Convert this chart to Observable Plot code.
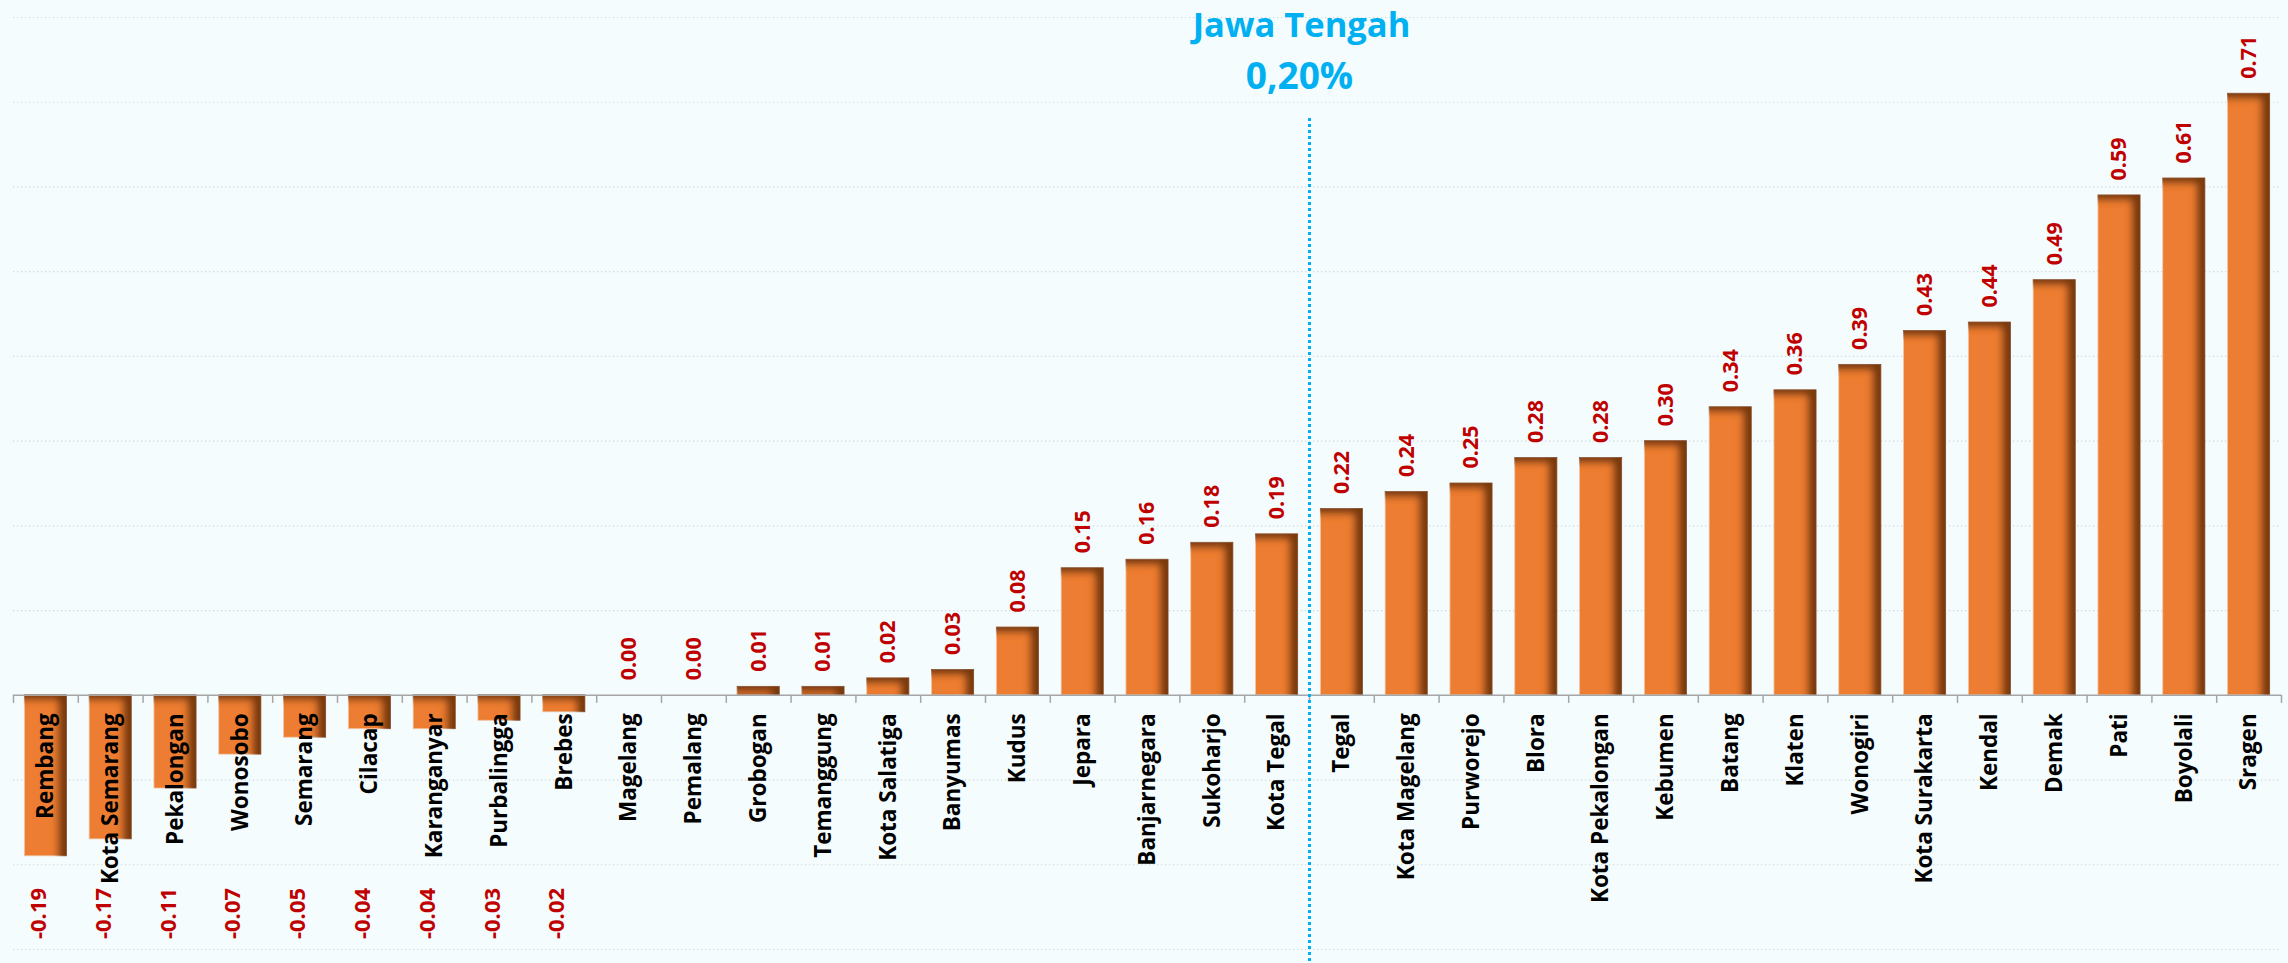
<!DOCTYPE html>
<html><head><meta charset="utf-8">
<script src="https://cdn.jsdelivr.net/npm/d3@7"></script>
<script src="https://cdn.jsdelivr.net/npm/@observablehq/plot@0.6"></script>
<style>
html,body{margin:0;padding:0;background:#f4fcfe;}
#chart{width:2288px;height:963px;}
</style></head><body><div id="chart"></div>
<script>
const regions = ["Rembang","Kota Semarang","Pekalongan","Wonosobo","Semarang","Cilacap","Karanganyar","Purbalingga","Brebes","Magelang","Pemalang","Grobogan","Temanggung","Kota Salatiga","Banyumas","Kudus","Jepara","Banjarnegara","Sukoharjo","Kota Tegal","Tegal","Kota Magelang","Purworejo","Blora","Kota Pekalongan","Kebumen","Batang","Klaten","Wonogiri","Kota Surakarta","Kendal","Demak","Pati","Boyolali","Sragen"];
const growth = [-0.19,-0.17,-0.11,-0.07,-0.05,-0.04,-0.04,-0.03,-0.02,0.00,0.00,0.01,0.01,0.02,0.03,0.08,0.15,0.16,0.18,0.19,0.22,0.24,0.25,0.28,0.28,0.30,0.34,0.36,0.39,0.43,0.44,0.49,0.59,0.61,0.71];
const provinceName = "Jawa Tengah";
const provinceRate = 0.20;
const provinceLabel = "0,20%";
const gridValues = [-0.3,-0.2,-0.1,0.1,0.2,0.3,0.4,0.5,0.6,0.7,0.8];

const data = regions.map((r, i) => ({region: r, value: growth[i]}));
const pos = data.filter(d => d.value >= 0);
const neg = data.filter(d => d.value < 0);
const lastBelow = data.filter(d => d.value < provinceRate).at(-1).region;

const W = 2288, H = 963, mL = 13, mR = 7;
const step = (W - mL - mR) / regions.length;
const font = "'Open Sans', Lato, sans-serif";

const chart = Plot.plot({
  width: W, height: H,
  marginLeft: mL, marginRight: mR, marginTop: 17, marginBottom: 14,
  style: {background: "#f4fcfe", fontFamily: font, overflow: "visible"},
  x: {domain: regions, paddingInner: 0.35, paddingOuter: 0.175, round: false, axis: null},
  y: {domain: [-0.3, 0.8], axis: null},
  marks: [
    Plot.ruleY(gridValues, {stroke: "#cdd6d9", strokeDasharray: "1.2,2.8", strokeWidth: 1.2}),
    Plot.barY(data, {x: "region", y: "value", fill: "#ed7d31"}),
    Plot.ruleY([0], {stroke: "#a6a6a6", strokeWidth: 1.5}),
    Plot.ruleX(regions, {x: d => d, y1: 0, y2: 0, insetBottom: -8, dx: -step / 2, stroke: "#a6a6a6", strokeWidth: 1.5}),
    Plot.ruleX([regions.at(-1)], {x: d => d, y1: 0, y2: 0, insetBottom: -8, dx: step / 2, stroke: "#a6a6a6", strokeWidth: 1.5}),
    Plot.ruleX([lastBelow], {x: d => d, dx: step / 2, insetTop: 101, insetBottom: -14, stroke: "#00b0f0", strokeWidth: 3, strokeDasharray: "3,3"}),
    Plot.text(data, {x: "region", y: 0, text: "region", rotate: -90, textAnchor: "end", dy: 18, fontSize: 22.5, fontWeight: "bold", fill: "#000"}),
    Plot.text(pos, {x: "region", y: "value", text: d => d.value.toFixed(2), rotate: -90, textAnchor: "start", dy: -15, fontSize: 21.5, fontWeight: "bold", fill: "#c00000"}),
    Plot.text(neg, {x: "region", text: d => d.value.toFixed(2), frameAnchor: "bottom", dy: -36, rotate: -90, textAnchor: "middle", fontSize: 22, fontWeight: "bold", fill: "#c00000"}),
    Plot.text([provinceName], {x: () => lastBelow, text: d => d, frameAnchor: "top", dx: step / 2 - 8, dy: -5, fontSize: 34.5, fontWeight: "bold", fill: "#00b0f0"}),
    Plot.text([provinceLabel], {x: () => lastBelow, text: d => d, frameAnchor: "top", dx: step / 2 - 10, dy: 45, fontSize: 37, fontWeight: "bold", fill: "#00b0f0"})
  ]
});

// inner shadow for bars (Excel-like bevel)
const ns = "http://www.w3.org/2000/svg";
const defs = document.createElementNS(ns, "defs");
defs.innerHTML = `
<filter id="innerShadow" x="-20%" y="-20%" width="140%" height="140%">
  <feOffset in="SourceAlpha" dx="-9" dy="6" result="off"/>
  <feGaussianBlur in="off" stdDeviation="3.5" result="blur"/>
  <feComposite operator="out" in="SourceAlpha" in2="blur" result="inv"/>
  <feFlood flood-color="#6e3410" flood-opacity="0.95" result="col"/>
  <feComposite operator="in" in="col" in2="inv" result="shadow"/>
  <feMerge><feMergeNode in="SourceGraphic"/><feMergeNode in="shadow"/></feMerge>
</filter>`;
chart.insertBefore(defs, chart.firstChild);
chart.querySelectorAll('g[aria-label="bar"] rect').forEach(r => {
  r.setAttribute("filter", "url(#innerShadow)");
  r.setAttribute("stroke", "#f3c8a8");
  r.setAttribute("stroke-width", "0.8");
});
document.getElementById("chart").appendChild(chart);
</script>
</body></html>
